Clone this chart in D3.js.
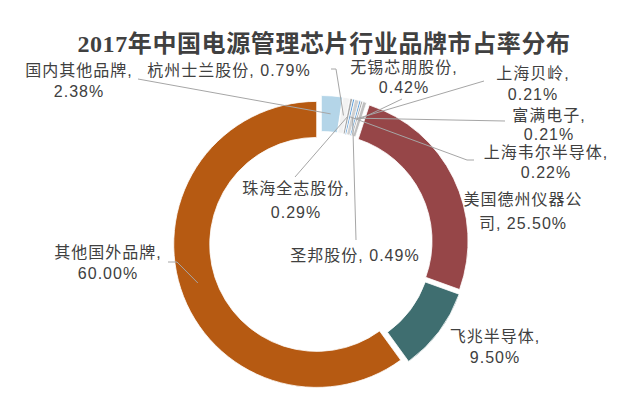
<!DOCTYPE html>
<html><head><meta charset="utf-8">
<script src="https://cdn.jsdelivr.net/npm/d3@7"></script>
<style>
body{margin:0;background:#fff}
svg{display:block}
</style>
</head><body>
<svg id="chart" width="640" height="408"></svg>
<script>
// ---- data ----
const chartTitle = "2017年中国电源管理芯片行业品牌市占率分布";
const brands = ["国内其他品牌","杭州士兰股份","珠海全志股份","上海韦尔半导体","圣邦股份","富满电子","上海贝岭","无锡芯朋股份","美国德州仪器公司","飞兆半导体","其他国外品牌"];
const shares = [2.38, 0.79, 0.29, 0.22, 0.49, 0.21, 0.21, 0.42, 25.50, 9.50, 60.00];

// ---- styles / layout ----
const sliceColors = ["#b4d5e8","#f2f2f2","#a5a5a5","#5b9bd5","#d0d0d0","#5b9bd5","#a5a5a5","#bfbfbf","#964648","#3f6e70","#b65a12"];
const labelLayout = [
  {x:79,  y:[70,91],   split:7,  leader:[[138,79]]},
  {x:229, y:[70],      split:0,  leader:[[331,69],[336,69]]},
  {x:296, y:[188,212], split:7,  leader:[[295,177]]},
  {x:546, y:[152,172], split:8,  leader:[[474,160],[467,160]]},
  {x:355, y:[255],     split:0,  leader:[[356,240]]},
  {x:549, y:[115,134], split:5,  leader:[[505,121]]},
  {x:533, y:[73,94],   split:5,  leader:[[484,81]]},
  {x:404, y:[67,87],   split:7,  leader:[[402,99]]},
  {x:523, y:[199,223], split:7,  leader:null},
  {x:495, y:[336,357], split:6,  leader:null},
  {x:108, y:[252,273], split:7,  leader:[[168,262],[177,262]]}
];
const cx = 321, cy = 243, rOuter = 143, rInner = 107, explode = 4.5;

const svg = d3.select("#chart");

svg.append("text")
  .attr("x", 324).attr("y", 44)
  .attr("text-anchor","middle").attr("dominant-baseline","central")
  .style("font-family","'Liberation Serif','Noto Sans CJK SC',serif")
  .style("font-weight","bold").style("font-size","24px")
  .style("letter-spacing","0.6px")
  .attr("fill","#404040")
  .text(chartTitle);

const pie = d3.pie().sort(null).value(d => d).startAngle(0).endAngle(2*Math.PI);
const arcs = pie(shares);
const arc = d3.arc().innerRadius(rInner).outerRadius(rOuter);

function shift(a){
  const m = (a.startAngle + a.endAngle)/2;
  return [explode*Math.sin(m), -explode*Math.cos(m)];
}

const g = svg.append("g").attr("transform",`translate(${cx},${cy})`);
g.selectAll("path.slice").data(arcs).join("path")
  .attr("class","slice")
  .attr("d", arc)
  .attr("transform", d => { const s = shift(d); return `translate(${s[0]},${s[1]})`; })
  .attr("fill", (d,i) => sliceColors[i])
  .attr("stroke","#fff").attr("stroke-width",0.8);

// leader lines
const line = d3.line();
arcs.forEach((a,i) => {
  const L = labelLayout[i];
  if (!L.leader) return;
  const c = arc.centroid(a), s = shift(a);
  const end = [cx + c[0] + s[0], cy + c[1] + s[1]];
  svg.append("path")
    .attr("d", line(L.leader.concat([end])))
    .attr("fill","none").attr("stroke","#a6a6a6").attr("stroke-width",1);
});

// labels
arcs.forEach((a,i) => {
  const L = labelLayout[i];
  const full = brands[i] + ", " + shares[i].toFixed(2) + "%";
  const lines = L.split ? [full.slice(0,L.split), full.slice(L.split).trim()] : [full];
  lines.forEach((t,k) => {
    svg.append("text")
      .attr("x", L.x).attr("y", L.y[k])
      .attr("text-anchor","middle").attr("dominant-baseline","central")
      .style("font-family","'Liberation Sans','Noto Sans CJK SC',sans-serif")
      .style("font-size","16px").style("letter-spacing","1px")
      .attr("fill","#404040")
      .text(t);
  });
});
</script>
</body></html>
